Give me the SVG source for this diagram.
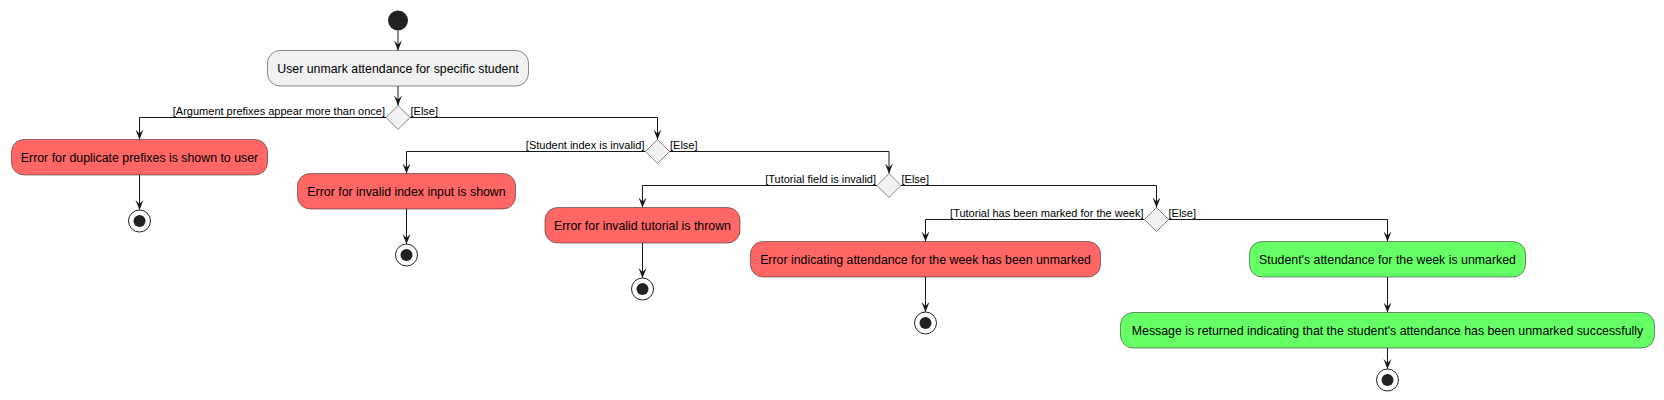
<svg xmlns="http://www.w3.org/2000/svg" width="1664" height="400" viewBox="0 0 1664 400">
<style>
.act{stroke:#181818;stroke-width:0.5}
.grey{fill:#F1F1F1}
.red{fill:#FF6666}
.green{fill:#66FF66}
.t{font-family:"Liberation Sans",Arial,sans-serif;font-size:12.35px;fill:#000;text-anchor:middle}
.lbl{font-family:"Liberation Sans",Arial,sans-serif;font-size:11px;fill:#000}
.end{text-anchor:end}
.dia{fill:#F1F1F1;stroke:#181818;stroke-width:0.5}
.edge{fill:none;stroke:#181818;stroke-width:1;marker-end:url(#ah)}
.eo{fill:none;stroke:#222222;stroke-width:1}
.ei{fill:#222222}
</style>
<defs>
<marker id="ah" viewBox="0 -5 11 10" refX="10" refY="0" markerWidth="11" markerHeight="10" markerUnits="userSpaceOnUse" orient="auto">
<path d="M0,-4 L10,0 L0,4 L4,0 Z" fill="#181818"/>
</marker>
</defs>
<rect width="1664" height="400" fill="#FFFFFF"/>
<g id="connectors">
<path class="edge" d="M398,30.5 V50.5"/>
<path class="edge" d="M398,86 V105.5"/>
<path class="edge" d="M386,117.5 H139.5 V139.5"/>
<path class="edge" d="M410,117.5 H657.5 V139.5"/>
<path class="edge" d="M645.5,151.5 H406.5 V173.5"/>
<path class="edge" d="M669.5,151.5 H889 V173.5"/>
<path class="edge" d="M877,185.5 H642.5 V207.5"/>
<path class="edge" d="M901,185.5 H1156.5 V207.5"/>
<path class="edge" d="M1144.5,219.5 H925.5 V241.5"/>
<path class="edge" d="M1168.5,219.5 H1387.5 V241.5"/>
<path class="edge" d="M139.5,175 V210"/>
<path class="edge" d="M406.5,209 V244"/>
<path class="edge" d="M642.5,243 V278"/>
<path class="edge" d="M925.5,277 V312"/>
<path class="edge" d="M1387.5,277 V312.5"/>
<path class="edge" d="M1387.5,348 V369"/>
<text class="lbl end" x="385" y="114.5">[Argument prefixes appear more than once]</text>
<text class="lbl" x="410.5" y="114.5">[Else]</text>
<text class="lbl end" x="644.5" y="148.5">[Student index is invalid]</text>
<text class="lbl" x="670" y="148.5">[Else]</text>
<text class="lbl end" x="876" y="182.5">[Tutorial field is invalid]</text>
<text class="lbl" x="901.5" y="182.5">[Else]</text>
<text class="lbl end" x="1143.5" y="216.5">[Tutorial has been marked for the week]</text>
<text class="lbl" x="1168.5" y="216.5">[Else]</text>
</g>
<g id="start"><circle cx="398" cy="20.5" r="10" fill="#222222"/></g>
<g id="userUnmark"><rect class="act grey" x="267.5" y="50.5" width="261" height="35.5" rx="12.5"/><text class="t" x="398" y="73">User unmark attendance for specific student</text></g>
<g id="d1"><polygon class="dia" points="398,105.5 410,117.5 398,129.5 386,117.5"/></g>
<g id="d2"><polygon class="dia" points="657.5,139.5 669.5,151.5 657.5,163.5 645.5,151.5"/></g>
<g id="d3"><polygon class="dia" points="889,173.5 901,185.5 889,197.5 877,185.5"/></g>
<g id="d4"><polygon class="dia" points="1156.5,207.5 1168.5,219.5 1156.5,231.5 1144.5,219.5"/></g>
<g id="errDup"><rect class="act red" x="11.5" y="139.5" width="256" height="35.5" rx="12.5"/><text class="t" x="139.5" y="162">Error for duplicate prefixes is shown to user</text></g>
<g id="errIndex"><rect class="act red" x="297.5" y="173.5" width="218" height="35.5" rx="12.5"/><text class="t" x="406.5" y="196">Error for invalid index input is shown</text></g>
<g id="errTut"><rect class="act red" x="545" y="207.5" width="195" height="35.5" rx="12.5"/><text class="t" x="642.5" y="230">Error for invalid tutorial is thrown</text></g>
<g id="errMarked"><rect class="act red" x="750.5" y="241.5" width="350" height="35.5" rx="12.5"/><text class="t" x="925.5" y="264">Error indicating attendance for the week has been unmarked</text></g>
<g id="unmarked"><rect class="act green" x="1249.5" y="241.5" width="276" height="35.5" rx="12.5"/><text class="t" x="1387.5" y="264">Student's attendance for the week is unmarked</text></g>
<g id="message"><rect class="act green" x="1120.5" y="312.5" width="534" height="35.5" rx="12.5"/><text class="t" x="1387.5" y="335">Message is returned indicating that the student's attendance has been unmarked successfully</text></g>
<g id="end1"><circle class="eo" cx="139.5" cy="221" r="11"/><circle class="ei" cx="139.5" cy="221" r="6"/></g>
<g id="end2"><circle class="eo" cx="406.5" cy="255" r="11"/><circle class="ei" cx="406.5" cy="255" r="6"/></g>
<g id="end3"><circle class="eo" cx="642.5" cy="289" r="11"/><circle class="ei" cx="642.5" cy="289" r="6"/></g>
<g id="end4"><circle class="eo" cx="925.5" cy="323" r="11"/><circle class="ei" cx="925.5" cy="323" r="6"/></g>
<g id="end5"><circle class="eo" cx="1387.5" cy="380" r="11"/><circle class="ei" cx="1387.5" cy="380" r="6"/></g>
</svg>
